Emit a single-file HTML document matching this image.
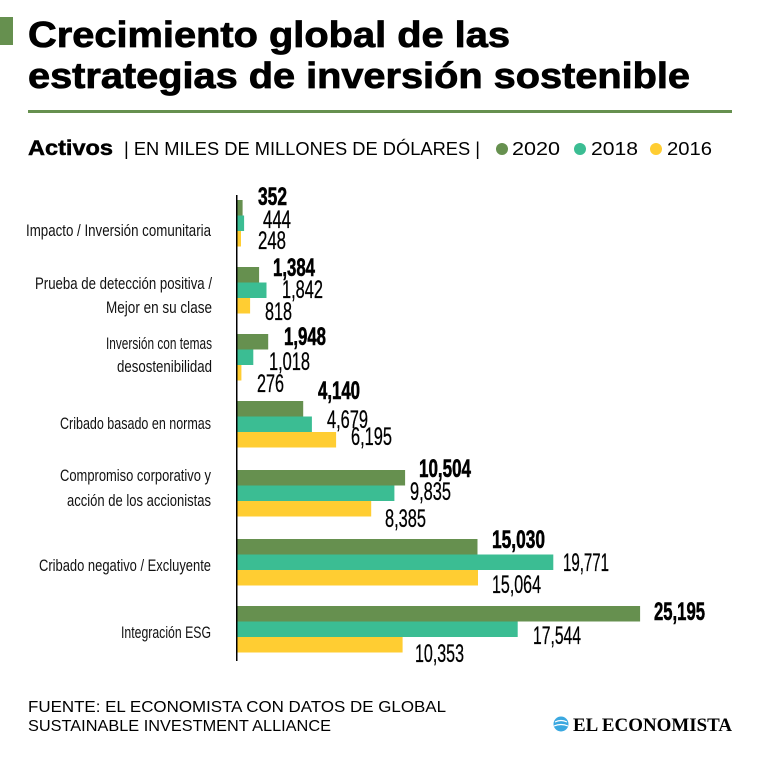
<!DOCTYPE html>
<html><head><meta charset="utf-8"><style>
html,body{margin:0;padding:0;background:#fff;}
svg{display:block;}
.n{font-family:"Liberation Sans Narrow","Liberation Sans",sans-serif;}
</style></head><body>
<svg width="760" height="760" viewBox="0 0 760 760" xmlns="http://www.w3.org/2000/svg">
<rect x="0" y="17" width="13" height="28" fill="#66904f"/>
<text x="28" y="47" font-family="Liberation Sans, sans-serif" font-weight="bold" font-size="36" textLength="482" lengthAdjust="spacingAndGlyphs" fill="#000" stroke="#000" stroke-width="0.8">Crecimiento global de las</text>
<text x="28" y="88" font-family="Liberation Sans, sans-serif" font-weight="bold" font-size="36" textLength="662" lengthAdjust="spacingAndGlyphs" fill="#000" stroke="#000" stroke-width="0.8">estrategias de inversión sostenible</text>
<rect x="28" y="110" width="704" height="3" fill="#66904f"/>
<text x="28" y="155" font-family="Liberation Sans, sans-serif" font-weight="bold" font-size="21" textLength="85" lengthAdjust="spacingAndGlyphs" stroke="#000" stroke-width="0.5">Activos</text>
<text x="124" y="155" font-family="Liberation Sans, sans-serif" font-size="18" textLength="356" lengthAdjust="spacingAndGlyphs">| EN MILES DE MILLONES DE DÓLARES |</text>
<circle cx="502" cy="149" r="6" fill="#66904f"/>
<text x="512" y="155" font-family="Liberation Sans, sans-serif" font-size="18" textLength="48" lengthAdjust="spacingAndGlyphs">2020</text>
<circle cx="580" cy="149" r="6" fill="#3bbd93"/>
<text x="591" y="155" font-family="Liberation Sans, sans-serif" font-size="18" textLength="47" lengthAdjust="spacingAndGlyphs">2018</text>
<circle cx="656" cy="149" r="6" fill="#ffcd32"/>
<text x="667" y="155" font-family="Liberation Sans, sans-serif" font-size="18" textLength="45" lengthAdjust="spacingAndGlyphs">2016</text>

<g class="n" font-size="17" fill="#111">
<text x="26" y="236" textLength="185" lengthAdjust="spacingAndGlyphs">Impacto / Inversión comunitaria</text>
<text x="35" y="289" textLength="177" lengthAdjust="spacingAndGlyphs">Prueba de detección positiva /</text>
<text x="106" y="313" textLength="106" lengthAdjust="spacingAndGlyphs">Mejor en su clase</text>
<text x="106" y="349" textLength="106" lengthAdjust="spacingAndGlyphs">Inversión con temas</text>
<text x="117" y="372" textLength="95" lengthAdjust="spacingAndGlyphs">desostenibilidad</text>
<text x="60" y="429" textLength="151" lengthAdjust="spacingAndGlyphs">Cribado basado en normas</text>
<text x="60" y="481" textLength="151" lengthAdjust="spacingAndGlyphs">Compromiso corporativo y</text>
<text x="67" y="506" textLength="144" lengthAdjust="spacingAndGlyphs">acción de los accionistas</text>
<text x="39" y="571" textLength="172" lengthAdjust="spacingAndGlyphs">Cribado negativo / Excluyente</text>
<text x="121" y="638" textLength="90" lengthAdjust="spacingAndGlyphs">Integración ESG</text>
</g>

<g>
<rect x="237" y="200" width="5.6" height="15.5" fill="#66904f"/>
<rect x="237" y="215.5" width="7.1" height="15.5" fill="#3bbd93"/>
<rect x="237" y="231" width="4" height="15.5" fill="#ffcd32"/>
<rect x="237" y="267" width="22.1" height="15.5" fill="#66904f"/>
<rect x="237" y="282.5" width="29.5" height="15.5" fill="#3bbd93"/>
<rect x="237" y="298" width="13.1" height="15.5" fill="#ffcd32"/>
<rect x="237" y="334" width="31.2" height="15.5" fill="#66904f"/>
<rect x="237" y="349.5" width="16.3" height="15.5" fill="#3bbd93"/>
<rect x="237" y="365" width="4.4" height="15.5" fill="#ffcd32"/>
<rect x="237" y="401" width="66.2" height="15.5" fill="#66904f"/>
<rect x="237" y="416.5" width="74.9" height="15.5" fill="#3bbd93"/>
<rect x="237" y="432" width="99.1" height="15.5" fill="#ffcd32"/>
<rect x="237" y="470" width="168.1" height="15.5" fill="#66904f"/>
<rect x="237" y="485.5" width="157.4" height="15.5" fill="#3bbd93"/>
<rect x="237" y="501" width="134.2" height="15.5" fill="#ffcd32"/>
<rect x="237" y="539" width="240.5" height="15.5" fill="#66904f"/>
<rect x="237" y="554.5" width="316.3" height="15.5" fill="#3bbd93"/>
<rect x="237" y="570" width="241" height="15.5" fill="#ffcd32"/>
<rect x="237" y="606" width="403.1" height="15.5" fill="#66904f"/>
<rect x="237" y="621.5" width="280.7" height="15.5" fill="#3bbd93"/>
<rect x="237" y="637" width="165.6" height="15.5" fill="#ffcd32"/>
<rect x="236" y="195" width="1.5" height="466" fill="#000"/>
</g>

<g class="n" font-size="25" fill="#000">
<g font-weight="bold" stroke="#000" stroke-width="0.6">
<text x="258" y="205" textLength="29" lengthAdjust="spacingAndGlyphs">352</text>
<text x="273" y="276" textLength="42" lengthAdjust="spacingAndGlyphs">1,384</text>
<text x="284" y="345" textLength="42" lengthAdjust="spacingAndGlyphs">1,948</text>
<text x="318" y="399" textLength="42" lengthAdjust="spacingAndGlyphs">4,140</text>
<text x="419" y="477" textLength="52" lengthAdjust="spacingAndGlyphs">10,504</text>
<text x="492" y="548" textLength="53" lengthAdjust="spacingAndGlyphs">15,030</text>
<text x="654" y="620" textLength="51" lengthAdjust="spacingAndGlyphs">25,195</text>
</g>
<g stroke="#000" stroke-width="0.3">
<text x="263" y="228" textLength="28" lengthAdjust="spacingAndGlyphs">444</text>
<text x="258" y="249" textLength="28" lengthAdjust="spacingAndGlyphs">248</text>
<text x="282" y="298" textLength="41" lengthAdjust="spacingAndGlyphs">1,842</text>
<text x="265" y="320" textLength="27" lengthAdjust="spacingAndGlyphs">818</text>
<text x="269" y="370" textLength="41" lengthAdjust="spacingAndGlyphs">1,018</text>
<text x="257" y="392" textLength="27" lengthAdjust="spacingAndGlyphs">276</text>
<text x="327" y="428" textLength="41" lengthAdjust="spacingAndGlyphs">4,679</text>
<text x="351" y="445" textLength="41" lengthAdjust="spacingAndGlyphs">6,195</text>
<text x="410" y="500" textLength="41" lengthAdjust="spacingAndGlyphs">9,835</text>
<text x="385" y="527" textLength="41" lengthAdjust="spacingAndGlyphs">8,385</text>
<text x="563" y="571" textLength="46" lengthAdjust="spacingAndGlyphs">19,771</text>
<text x="492" y="593" textLength="49" lengthAdjust="spacingAndGlyphs">15,064</text>
<text x="533" y="644" textLength="48" lengthAdjust="spacingAndGlyphs">17,544</text>
<text x="415" y="662" textLength="49" lengthAdjust="spacingAndGlyphs">10,353</text>
</g>
</g>

<text x="28" y="712" font-family="Liberation Sans, sans-serif" font-size="16" textLength="418" lengthAdjust="spacingAndGlyphs">FUENTE: EL ECONOMISTA CON DATOS DE GLOBAL</text>
<text x="28" y="731" font-family="Liberation Sans, sans-serif" font-size="16" textLength="303" lengthAdjust="spacingAndGlyphs">SUSTAINABLE INVESTMENT ALLIANCE</text>
<circle cx="561" cy="724" r="7.5" fill="#3aa8e0"/>
<path d="M555 722 q6 -3 12 0 M554 726 q7 -3 14 0" stroke="#fff" stroke-width="1.2" fill="none"/>
<text x="573" y="731" font-family="Liberation Serif, serif" font-weight="bold" font-size="19" textLength="159" lengthAdjust="spacingAndGlyphs">EL ECONOMISTA</text>
</svg>
</body></html>
